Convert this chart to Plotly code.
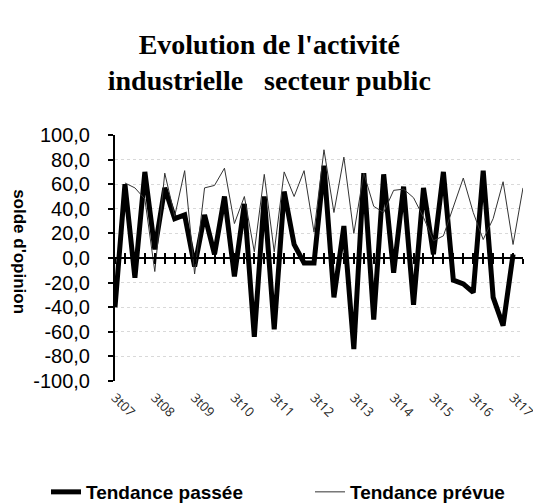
import plotly.graph_objects as go

# ---- data ----
quarters = []
for yr in range(7, 18):
    for q in (1, 2, 3, 4):
        if (yr == 7 and q < 3):
            continue
        quarters.append(f"{q}t{yr:02d}")
# 3t07 ... 4t17 (42 quarters)

tendance_passee = [-40, 60, -16, 70, 7, 57, 32, 35, -7, 35, 3, 50, -15, 44, -64, 50, -58, 54, 11, -4,
                   -4, 75, -32, 26, -74, 69, -50, 68, -12, 58, -38, 57, 3, 70, -18, -21, -28, 71, -32, -55,
                   3, None]
tendance_prevue = [None, 61, 57, 48, -11, 69, 34, 71, -13, 57, 59, 73, 28, 50, 5, 68, 5, 70, 50, 71,
                   21, 88, 37, 82, 20, 69, 42, 37, 55, 56, 49, 33, 14, 18, 42, 65, 37, 15, 32, 62,
                   11, 57]

x_tick_labels = quarters[::4]  # 3t07, 3t08, ... 3t17
y_tick_vals = [-100, -80, -60, -40, -20, 0, 20, 40, 60, 80, 100]
y_tick_text = ["-100,0", "-80,0", "-60,0", "-40,0", "-20,0", "0,0", "20,0", "40,0", "60,0", "80,0", "100,0"]

title_text = "Evolution de l'activité<br>industrielle&nbsp;&nbsp; secteur public"
y_title = "solde d'opinion"

# ---- figure ----
fig = go.Figure()
fig.add_trace(go.Scatter(x=quarters, y=tendance_passee, mode="lines", name="Tendance passée",
                         line=dict(color="black", width=5), connectgaps=False, legend="legend"))
fig.add_trace(go.Scatter(x=quarters, y=tendance_prevue, mode="lines", name="Tendance prévue",
                         line=dict(color="#333333", width=1), connectgaps=False, legend="legend2"))

n = len(quarters)
idx = list(range(n))
xr = [0, n - 1]

# helper (empty) traces so that the zero-crossing tick axes are rendered
for ax in ("x2", "x3"):
    fig.add_trace(go.Scatter(x=idx, y=[None] * n, xaxis=ax, yaxis="y", mode="lines",
                             showlegend=False, hoverinfo="skip"))

legend_font = dict(family="Arial, Liberation Sans, sans-serif", size=19, weight="bold", color="black")

fig.update_layout(
    width=541, height=503,
    margin=dict(l=107, r=23, t=127, b=130),
    paper_bgcolor="white", plot_bgcolor="white",
    font=dict(family="Arial, Liberation Sans, sans-serif", color="black"),
    title=dict(text=title_text, x=0.483, xanchor="center", xref="container",
               y=1 - 46 / 503, yanchor="top", yref="container",
               font=dict(family="Liberation Serif, Times New Roman, serif", size=28,
                         weight="bold", color="black")),
    showlegend=True,
    legend=dict(orientation="h", xref="container", yref="container",
                x=38 / 541, xanchor="left", y=38 / 503, yanchor="top",
                font=legend_font, bgcolor="rgba(0,0,0,0)"),
    legend2=dict(orientation="h", xref="container", yref="container",
                 x=302 / 541, xanchor="left", y=38 / 503, yanchor="top",
                 font=legend_font, bgcolor="rgba(0,0,0,0)"),
    xaxis=dict(type="category", categoryorder="array", categoryarray=quarters,
               range=xr, tickmode="array", tickvals=x_tick_labels, ticktext=x_tick_labels,
               tickangle=45, ticks="outside", ticklen=3, tickcolor="rgba(0,0,0,0)",
               showline=False, showgrid=False, zeroline=False,
               tickfont=dict(family="Open Sans, sans-serif", size=13, color="#262626")),
    xaxis2=dict(overlaying="x", anchor="free", position=0.5, range=xr,
                tickmode="array", tickvals=idx, showticklabels=False,
                ticks="outside", ticklen=5, tickwidth=2, tickcolor="black",
                showline=True, linecolor="black", linewidth=2,
                showgrid=False, zeroline=False),
    xaxis3=dict(overlaying="x", anchor="free", position=0.5, range=xr,
                tickmode="array", tickvals=idx, showticklabels=False,
                ticks="inside", ticklen=5, tickwidth=2, tickcolor="black",
                showline=False, showgrid=False, zeroline=False),
    yaxis=dict(range=[-100, 100], tickmode="array", tickvals=y_tick_vals, ticktext=y_tick_text,
               showline=True, linecolor="black", linewidth=2,
               ticks="outside", ticklen=5, tickwidth=2, tickcolor="black",
               ticklabelstandoff=14,
               showgrid=True, gridcolor="#d9d9d9", gridwidth=1, griddash="dot",
               zeroline=False,
               tickfont=dict(family="Arial, Liberation Sans, sans-serif", size=20, color="black")),
    annotations=[dict(text=y_title, textangle=90, xref="paper", yref="paper",
                      x=-0.233, y=0.524, xanchor="center", yanchor="middle", showarrow=False,
                      font=dict(family="Arial, Liberation Sans, sans-serif", size=17,
                                weight="bold", color="black"))],
)

fig.write_html("out.html")
